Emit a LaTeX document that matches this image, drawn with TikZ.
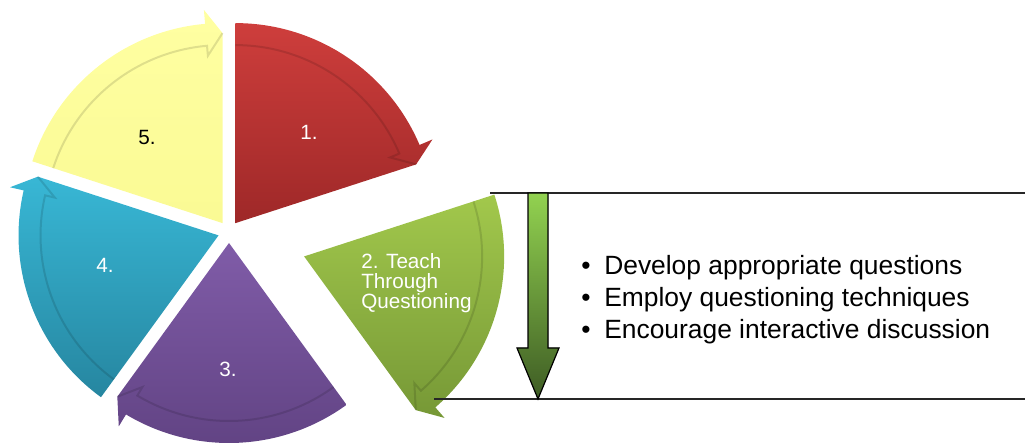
\documentclass[tikz,border=0pt]{standalone}
\usepackage{fontspec}
\setmainfont{Liberation Sans}
\definecolor{redtop}{RGB}{206,62,60}
\definecolor{redbot}{RGB}{158,40,40}
\definecolor{greentop}{RGB}{162,200,76}
\definecolor{greenbot}{RGB}{118,152,54}
\definecolor{purptop}{RGB}{128,92,168}
\definecolor{purpbot}{RGB}{96,66,130}
\definecolor{bluetop}{RGB}{56,183,213}
\definecolor{bluebot}{RGB}{38,134,160}
\definecolor{yeltop}{RGB}{255,255,162}
\definecolor{yelbot}{RGB}{250,250,148}
\definecolor{arrowtop}{RGB}{146,210,80}
\definecolor{arrowbot}{RGB}{62,92,36}
\begin{document}
\begin{tikzpicture}[x=0.75pt,y=0.75pt]
  \tikzstyle{seglabel}=[font=\fontsize{15.5}{15.2}\selectfont,text=white,inner sep=0pt]
  \tikzstyle{bullet}=[font=\fontsize{19.8}{24}\selectfont,anchor=base west,inner sep=0pt]
  \tikzstyle{bracket}=[line width=1.3pt,draw=black!85]
  \useasboundingbox (0,0) rectangle (1025,443);
  % five cycle segments, the second one pulled out
  \foreach \a/\d/\ct/\cb in {90/11/redtop/redbot,18/79/greentop/greenbot,-54/11/purptop/purpbot,-126/11/bluetop/bluebot,-198/11/yeltop/yelbot}{
    \begin{scope}[shift={(229,211)},shift={(\a-36:\d)}]
      \shade[top color=\ct, bottom color=\cb] (0,0) -- (\a:200)
        arc[start angle=\a, end angle=\a-67, radius=200] -- (\a-67:214) -- (\a-72:190) -- cycle;
      \draw[black, opacity=0.12, line width=1.5pt] (\a:178)
        arc[start angle=\a, end angle=\a-67, radius=178] -- (\a-67:168) -- (\a-72:190);
    \end{scope}
  }
  \node[seglabel] (l1) at (309,311) {1.};
  \node[seglabel, anchor=north west, align=left] (l2) at (361,190) {2. Teach\\Through\\Questioning};
  \node[seglabel] (l3) at (228,73.5) {3.};
  \node[seglabel] (l4) at (105,177.5) {4.};
  \node[seglabel, text=black] (l5) at (147,306) {5.};
  % bracket to the list
  \coordinate (gtop) at (490,249.7);
  \coordinate (gtip) at (434,43.7);
  \coordinate (etop) at (1025,249.7);
  \coordinate (ebot) at (1025,43.7);
  \draw[bracket] (gtop) -- (etop);
  \draw[bracket] (gtip) -- (ebot);
  \filldraw[top color=arrowtop, bottom color=arrowbot, draw=black, line width=0.9pt]
    (528,250) -- (548,250) -- (548,95) -- (559,95) -- (538,44) -- (517,95) -- (528,95) -- cycle;
  \node[bullet] (b1) at (581,168.7) {\makebox[17.25pt][l]{\textbullet}Develop appropriate questions};
  \node[bullet] (b2) at (581,136.3) {\makebox[17.25pt][l]{\textbullet}Employ questioning techniques};
  \node[bullet] (b3) at (581,104.7) {\makebox[17.25pt][l]{\textbullet}Encourage interactive discussion};
\end{tikzpicture}
\end{document}
